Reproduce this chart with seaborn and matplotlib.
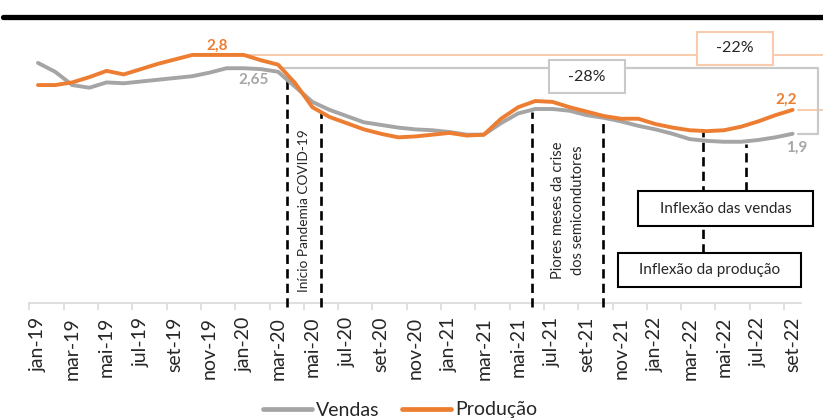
import numpy as np
import pandas as pd
import matplotlib
matplotlib.use("Agg")
import matplotlib.pyplot as plt
import seaborn as sns
from matplotlib.lines import Line2D
from matplotlib.patches import Rectangle

# ---------------- data ----------------
meses = ["jan", "fev", "mar", "abr", "mai", "jun", "jul", "ago", "set", "out", "nov", "dez"]
months = [f"{m}-{y}" for y in ["19", "20", "21"] for m in meses] + [f"{m}-22" for m in meses[:9]]

vendas = [2.71, 2.61, 2.46, 2.43, 2.49, 2.48, 2.50, 2.52, 2.54, 2.56, 2.60, 2.65,
          2.65, 2.64, 2.61, 2.44, 2.27, 2.18, 2.11, 2.04, 2.01, 1.98, 1.96, 1.95,
          1.93, 1.90, 1.90, 2.03, 2.14, 2.19, 2.19, 2.17, 2.12, 2.09, 2.05, 2.00,
          1.96, 1.91, 1.85, 1.83, 1.82, 1.82, 1.84, 1.87, 1.91]
producao = [2.46, 2.46, 2.49, 2.55, 2.62, 2.58, 2.64, 2.70, 2.75, 2.80, 2.80, 2.80,
            2.80, 2.74, 2.69, 2.48, 2.21, 2.10, 2.03, 1.96, 1.91, 1.87, 1.88, 1.90,
            1.92, 1.89, 1.90, 2.08, 2.21, 2.28, 2.27, 2.21, 2.16, 2.11, 2.08, 2.08,
            2.02, 1.98, 1.95, 1.94, 1.95, 1.99, 2.05, 2.12, 2.18]
tick_labels = months[::2]

COL_V = "#A5A5A5"
COL_P = "#ED7D31"
COL_P_LIGHT = "#F8CBAD"
COL_V_LIGHT = "#C9C9C9"

# ---------------- style ----------------
sns.set_style("white")
plt.rcParams['font.family'] = ['Lato', 'DejaVu Sans']

W, H = 823, 420
fig = plt.figure(figsize=(W / 100, H / 100), dpi=100)
ax = fig.add_axes([29.4 / W, 117 / H, 771.75 / W, 283.5 / H])

df = pd.DataFrame({"idx": np.arange(len(months)), "Vendas": vendas, "Produção": producao})
long = df.melt(id_vars="idx", var_name="serie", value_name="valor")
sns.lineplot(data=long, x="idx", y="valor", hue="serie", hue_order=["Vendas", "Produção"],
             palette={"Vendas": COL_V, "Produção": COL_P}, linewidth=2.8, ax=ax,
             legend=False, zorder=5)

ax.set_xlim(-0.5, len(months) - 0.5)
ax.set_ylim(0, 3.2)
ax.set_xlabel("")
ax.set_ylabel("")
ax.set_yticks([])
for s in ["left", "top", "right"]:
    ax.spines[s].set_visible(False)
ax.spines["bottom"].set_color("#D9D9D9")
ax.spines["bottom"].set_linewidth(1.2)

ax.set_xticks(np.arange(0, len(months), 2))
ax.set_xticklabels(tick_labels, rotation=90, fontsize=14, color="#262626")
ax.set_xticks(np.arange(-0.5, len(months) - 1, 2), minor=True)
ax.tick_params(axis="x", which="major", length=0, pad=10)
ax.tick_params(axis="x", which="minor", length=5, width=1.2, color="#D9D9D9", direction="out", bottom=True)

# ---------------- reference lines ----------------
i_ref = months.index("jan-20")
pmax = max(producao)
vref = vendas[i_ref]
pend = producao[-1]
vend = vendas[-1]
ax.plot([12, 46.5], [pmax, pmax], color=COL_P_LIGHT, lw=1.4, clip_on=False, zorder=2)
ax.plot([44.3, 46.5], [pend, pend], color=COL_P_LIGHT, lw=1.4, clip_on=False, zorder=2)
ax.plot([14.3, 45.5, 45.5, 44.3], [vref, vref, vend, vend], color=COL_V_LIGHT, lw=1.6,
        clip_on=False, zorder=2)

# boxes with percentages
ax.add_patch(Rectangle((38.43, 2.69), 4.43, 0.37, facecolor="white", edgecolor=COL_P_LIGHT,
                       lw=1.5, clip_on=False, zorder=3))
ax.text(40.65, 2.875, "-22%", ha="center", va="center", fontsize=11.5, color="#262626", zorder=4)
ax.add_patch(Rectangle((29.8, 2.37), 4.4, 0.37, facecolor="white", edgecolor=COL_V_LIGHT,
                       lw=1.5, clip_on=False, zorder=3))
ax.text(32.0, 2.555, "-28%", ha="center", va="center", fontsize=11.5, color="#262626", zorder=4)

# value labels
imax_p = int(np.argmax(producao))
ax.annotate("2,8", (imax_p, pmax), xytext=(25, 9), textcoords="offset pixels", ha="center",
            va="center", color=COL_P, fontsize=11, fontweight="bold", zorder=6)
ax.annotate("2,65", (i_ref, vref), xytext=(10, -12), textcoords="offset pixels", ha="center",
            va="center", color=COL_V, fontsize=11, fontweight="bold", zorder=6)
ax.annotate("2,2", (len(months) - 1, pend), xytext=(-6, 10), textcoords="offset pixels",
            ha="center", va="center", color=COL_P, fontsize=11, fontweight="bold", zorder=6)
ax.annotate("1,9", (len(months) - 1, vend), xytext=(4, -14), textcoords="offset pixels",
            ha="center", va="center", color=COL_V, fontsize=11, fontweight="bold", zorder=6)

# ---------------- event markers ----------------
dash = (0, (3.5, 2))
for x, ytop in [(14.53, 2.55), (16.5, 2.15), (28.8, 2.16), (32.95, 2.09)]:
    ax.plot([x, x], [-0.05, ytop], color="black", lw=1.9, linestyle=dash, clip_on=False, zorder=4)
ax.plot([38.8, 38.8], [0.564, 1.95], color="black", lw=1.9, linestyle=dash, zorder=2)
ax.plot([41.3, 41.3], [1.264, 1.80], color="black", lw=1.9, linestyle=dash, zorder=2)

ax.text(15.51, 1.04, "Início Pandemia COVID-19", rotation=90, ha="center", va="center",
        fontsize=9.8, color="#262626")
ax.text(30.9, 1.05, "Piores meses da crise\ndos semicondutores", rotation=90, ha="center",
        va="center", fontsize=10.5, color="#262626", linespacing=1.55)

ax.add_patch(Rectangle((35.0, 0.869), 10.2, 0.395, facecolor="white", edgecolor="black",
                       lw=1.5, clip_on=False, zorder=3))
ax.text(40.1, 1.066, "Inflexão das vendas", ha="center", va="center", fontsize=11,
        color="#262626", zorder=4)
ax.add_patch(Rectangle((33.8, 0.181), 10.7, 0.383, facecolor="white", edgecolor="black",
                       lw=1.5, clip_on=False, zorder=3))
ax.text(39.15, 0.372, "Inflexão da produção", ha="center", va="center", fontsize=11,
        color="#262626", zorder=4)

# ---------------- top bar & legend ----------------
fig.add_artist(Line2D([3 / W, 1.0], [1 - 16.5 / H, 1 - 16.5 / H], transform=fig.transFigure,
                      color="black", lw=3.8))

handles = [Line2D([], [], color=COL_V, lw=3.4), Line2D([], [], color=COL_P, lw=3.4)]
fig.legend(handles, ["Vendas", "Produção"], loc="center", bbox_to_anchor=(400 / W, 10 / H),
           ncol=2, frameon=False, fontsize=14, handlelength=2.5, handletextpad=0.2,
           columnspacing=1.2)

fig.savefig("out.png", dpi=100)
